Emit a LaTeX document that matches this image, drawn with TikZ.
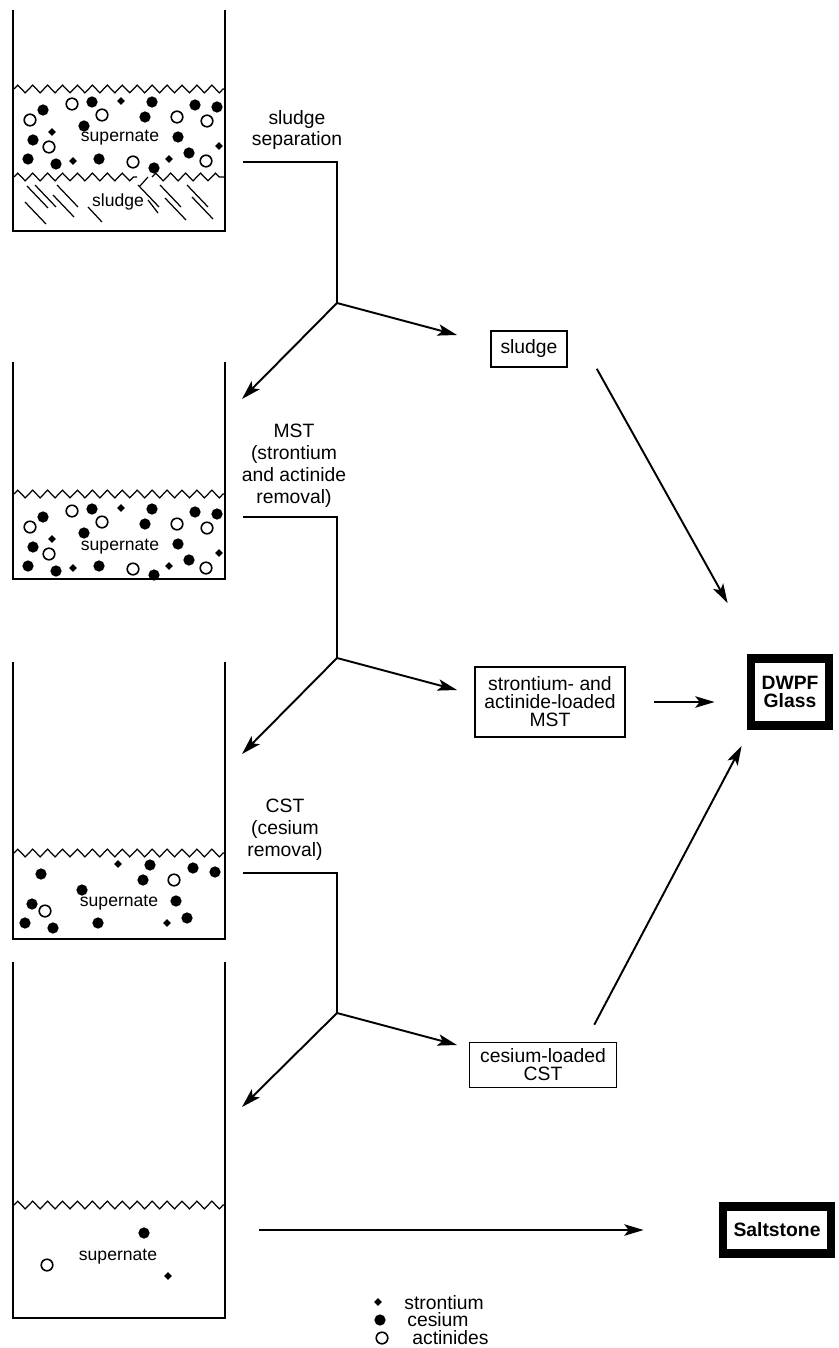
\documentclass[tikz,border=0pt]{standalone}
\usepackage{fontspec}
\setmainfont{Liberation Sans}
\usetikzlibrary{arrows.meta,decorations.pathmorphing,calc}

\tikzset{
	wall/.style={line width=1.2pt},
	surface/.style={line width=0.7pt, decorate, decoration={zigzag, segment length=8.5pt, amplitude=2.2pt}},
	hatch/.style={line width=0.7pt},
	flow/.style={line width=1.1pt},
	arr/.style={flow, -{Stealth[length=11pt,width=6.5pt,inset=2.5pt]}},
	stage/.style={align=center, font=\fontsize{11}{12.5}\selectfont},
	product/.style={draw, line width=0.9pt, align=center, inner sep=2pt, font=\fontsize{11}{10.2}\selectfont},
	final/.style={draw, line width=5pt, align=center, inner sep=2pt, font=\bfseries\fontsize{11}{9.8}\selectfont},
	liquid/.style={font=\fontsize{10}{12}\selectfont},
	legend/.style={anchor=west, inner sep=0pt, font=\fontsize{11}{12}\selectfont}
}

\begin{document}
\begin{tikzpicture}[x=0.02cm, y=-0.02cm]
	\useasboundingbox (0,0) rectangle (838,1348);

	% tanks
	\draw[wall] (13,10) -- (13,231) -- (225,231) -- (225,10);
	\draw[wall] (13,362) -- (13,579) -- (225,579) -- (225,362);
	\draw[wall] (13,662) -- (13,939) -- (225,939) -- (225,662);
	\draw[wall] (13,962) -- (13,1318) -- (225,1318) -- (225,962);

	% liquid surfaces
	\draw[surface] (14,89) -- (224,89);
	\draw[surface] (14,177) -- (137,177);
	\draw[surface] (152,177) -- (224,177);
	\draw[surface] (14,494) -- (224,494);
	\draw[surface] (14,853) -- (224,853);
	\draw[surface] (14,1205) -- (224,1205);

	% settled sludge
	\foreach \x/\y in {27/186, 35/185, 57/185, 25/202, 53/195, 138/185, 160/185, 165/198, 187/185, 192/197}
		\draw[hatch] (\x,\y) -- ++(21,22);
	\draw[hatch] (88,207) -- ++(14,15);
	\draw[hatch] (148,200) -- ++(10,13);
	\draw[hatch] (140,186) -- ++(8,-9);

	% particles in tanks 1 and 2
	\foreach \w in {89,496} {
		\foreach \x/\y in {43/21, 92/13, 152/13, 195/16, 217/18, 84/37, 145/28, 33/51, 178/48, 28/70, 56/75, 99/70, 189/64, 154/79}
			\fill (\x,\w+\y) circle (3.2pt);
		\foreach \x/\y in {72/15, 102/26, 30/31, 177/28, 207/32, 49/58, 133/73, 206/72}
			\draw[line width=0.9pt] (\x,\w+\y) circle (3.3pt);
		\foreach \x/\y in {121/12, 52/43, 73/72, 169/70, 219/57}
			\fill[shift={(\x,\w+\y)}] (0,2.2pt) -- (2.2pt,0) -- (0,-2.2pt) -- (-2.2pt,0) -- cycle;
	}

	% particles in tank 3
	\foreach \x/\y in {41/874, 150/865, 193/868, 215/872, 143/880, 82/890, 32/904, 176/901, 25/923, 53/928, 98/923, 187/918}
		\fill (\x,\y) circle (3.2pt);
	\foreach \x/\y in {174/880, 45/911}
		\draw[line width=0.9pt] (\x,\y) circle (3.3pt);
	\foreach \x/\y in {118/864, 167/923}
		\fill[shift={(\x,\y)}] (0,2.2pt) -- (2.2pt,0) -- (0,-2.2pt) -- (-2.2pt,0) -- cycle;

	% particles in tank 4
	\fill (144,1233) circle (3.2pt);
	\draw[line width=0.9pt] (47,1265) circle (3.3pt);
	\fill[shift={(168,1276)}] (0,2.2pt) -- (2.2pt,0) -- (0,-2.2pt) -- (-2.2pt,0) -- cycle;

	\node[liquid] (sup1) at (120,138) {supernate};
	\node[liquid] (sl1) at (118,202) {sludge};
	\node[liquid] (sup2) at (120,547) {supernate};
	\node[liquid] (sup3) at (119,903) {supernate};
	\node[liquid] (sup4) at (118,1257) {supernate};

	% process steps
	\node[stage] (sep) at (297,130) {sludge\\separation};
	\node[stage] (mstlbl) at (294,466) {MST\\(strontium\\and actinide\\removal)};
	\node[stage] (cstlbl) at (285,830) {CST\\(cesium\\removal)};

	\coordinate (in1) at (243,162);
	\coordinate (j1) at (337,303);
	\coordinate (in2) at (243,517);
	\coordinate (j2) at (337,658);
	\coordinate (in3) at (243,873);
	\coordinate (j3) at (337,1013);
	\coordinate (out4) at (259,1230);

	% products
	\node[product, minimum width=1.52cm, minimum height=0.72cm] (sludge) at (529,349) {sludge};
	\node[product, minimum width=3cm, minimum height=1.4cm] (mst) at (550,702) {strontium- and\\actinide-loaded\\MST};
	\node[product, minimum width=2.94cm, minimum height=0.9cm] (cst) at (543,1065) {cesium-loaded\\CST};
	\node[final, minimum width=1.56cm, minimum height=1.34cm] (dwpf) at (790,692) {DWPF\\Glass};
	\node[final, minimum width=2.16cm, minimum height=0.94cm] (salt) at (777,1230) {Saltstone};

	% flows
	\draw[flow] (in1) -| (j1);
	\draw[arr] (j1) -- ++(120,32);
	\draw[arr] (j1) -- ++(-95,96);
	\draw[flow] (in2) -| (j2);
	\draw[arr] (j2) -- ++(120,32);
	\draw[arr] (j2) -- ++(-95,96);
	\draw[flow] (in3) -| (j3);
	\draw[arr] (j3) -- ++(120,32);
	\draw[arr] (j3) -- ++(-95,94);

	\draw[arr] ($(sludge.south east)+(29,1)$) -- ($(dwpf.north west)+(-19,-51)$);
	\draw[arr] ($(mst.east)+(28,0)$) -- ($(mst.east -| dwpf.west)+(-32,0)$);
	\draw[arr] ($(cst.north east)+(-23,-17)$) -- ($(dwpf.south west)+(-5,16)$);
	\draw[arr] (out4) -- ($(salt.west)+(-75,0)$);

	% legend
	\fill[shift={(378,1302)}] (0,2.2pt) -- (2.2pt,0) -- (0,-2.2pt) -- (-2.2pt,0) -- cycle;
	\fill (380,1320) circle (3.2pt);
	\draw[line width=0.9pt] (382,1338) circle (3.3pt);
	\node[legend] (lgsr) at (404,1303) {strontium};
	\node[legend] (lgcs) at (407,1320) {cesium};
	\node[legend] (lgac) at (412,1338) {actinides};
\end{tikzpicture}
\end{document}
